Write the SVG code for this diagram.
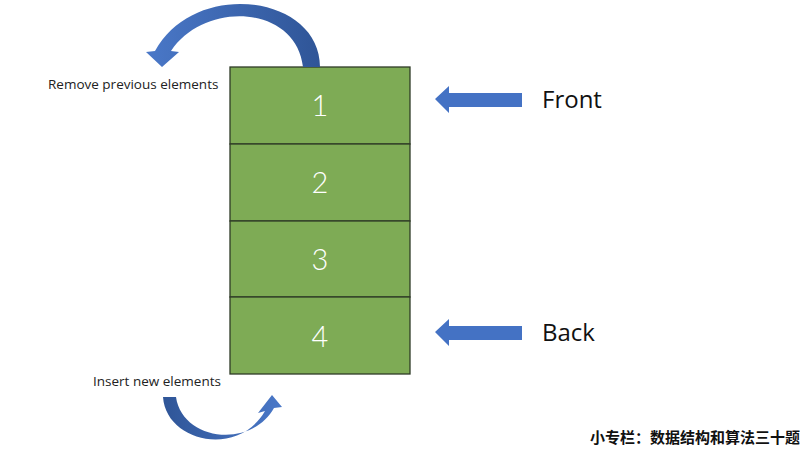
<svg xmlns="http://www.w3.org/2000/svg" width="800" height="449" viewBox="0 0 800 449">
<defs>
<linearGradient id="blueG" x1="0" y1="0" x2="1" y2="0">
<stop offset="0" stop-color="#4a78c8"/>
<stop offset="1" stop-color="#2f5597"/>
</linearGradient>
<linearGradient id="blueG2" x1="0" y1="0" x2="1" y2="0">
<stop offset="0" stop-color="#2f5597"/>
<stop offset="1" stop-color="#4a78c8"/>
</linearGradient>
<style>
.cell{fill:#7eab55;stroke:#2f3b27;stroke-width:1.3}
.num{font-family:Lato,"Liberation Sans",sans-serif;font-weight:300;font-size:29px;fill:#ffffff;text-anchor:middle}
.lbl{font-family:"Open Sans","Liberation Sans",sans-serif;font-size:13.5px;fill:#222}
.big{font-family:"Open Sans","Liberation Sans",sans-serif;font-size:24px;fill:#111}
.arrow{fill:#4472c4}
</style>
</defs>
<rect width="800" height="449" fill="#ffffff"/>
<g id="cell1"><rect class="cell" x="230" y="67" width="180" height="77"/><text class="num" x="320" y="116">1</text></g>
<g id="cell2"><rect class="cell" x="230" y="144" width="180" height="77"/><text class="num" x="320" y="193">2</text></g>
<g id="cell3"><rect class="cell" x="230" y="221" width="180" height="76"/><text class="num" x="320" y="270">3</text></g>
<g id="cell4"><rect class="cell" x="230" y="297" width="180" height="77"/><text class="num" x="320" y="347">4</text></g>
<g id="connectors">
<path id="removeArrow" fill="url(#blueG)" d="M 320,67 C 320,-5 195,-22 155,51 L 146,52 L 162,67 L 179,52 L 171,51 C 205,0 296,5 303,67 Z"/>
<path id="insertArrow" fill="url(#blueG2)" d="M 163,397 C 166,442 238,458 265,411 L 258,413 L 272,395 L 282,407 L 274,408 C 250,450 182,440 176,397 Z"/>
<path id="frontArrow" class="arrow" d="M 435,99 L 449,86 L 449,93 L 522,93 L 522,107 L 449,107 L 449,113 Z"/>
<path id="backArrow" class="arrow" d="M 435,332 L 449,319 L 449,326 L 522,326 L 522,340 L 449,340 L 449,346 Z"/>
</g>
<g id="labels">
<text class="lbl" x="48" y="89">Remove previous elements</text>
<text class="lbl" x="93" y="386">Insert new elements</text>
<text class="big" x="542" y="108">Front</text>
<text class="big" x="542" y="341">Back</text>
<text x="590" y="443" font-family="'Noto Sans CJK SC',sans-serif" font-size="15" font-weight="bold" fill="#111">小专栏：数据结构和算法三十题</text>
</g>
</svg>
